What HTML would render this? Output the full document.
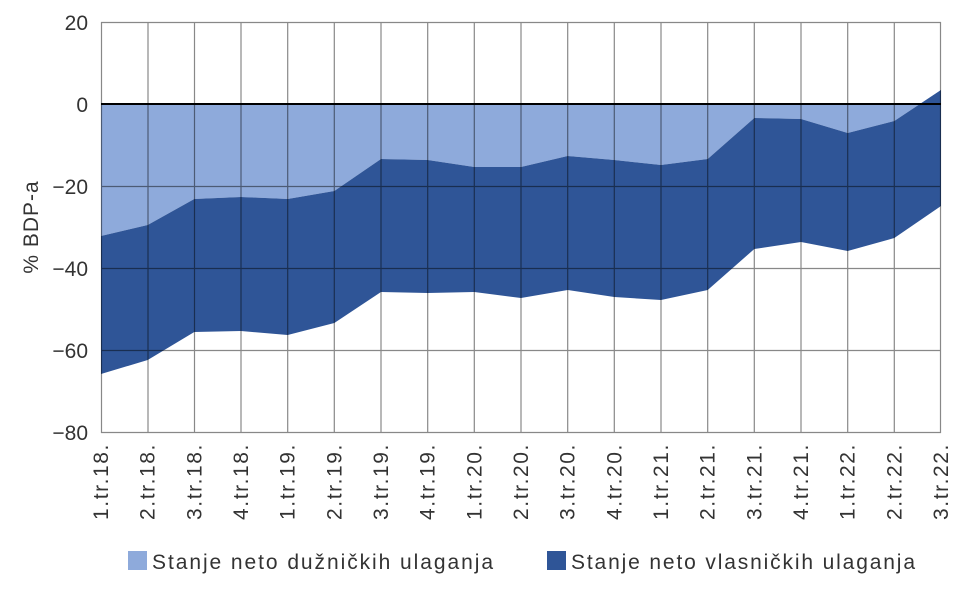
<!DOCTYPE html>
<html><head><meta charset="utf-8"><style>
body{margin:0;background:#fff;}
svg text{font-family:"Liberation Sans",sans-serif;fill:#333;}
</style></head><body>
<svg width="960" height="600" viewBox="0 0 960 600" xmlns="http://www.w3.org/2000/svg">
<rect width="960" height="600" fill="#fff"/>
<polygon fill="#8eaadb" points="101,104 941,104 941,90 894.3,121 847.7,133 801,119 754.3,118 707.7,159 661,165 614.3,160 567.7,156 521,167 474.3,167 427.7,160 381,159 334.3,191 287.7,199 241,197 194.3,199 147.7,225 101,236"/>
<polygon fill="#2f5597" points="101,236 147.7,225 194.3,199 241,197 287.7,199 334.3,191 381,159 427.7,160 474.3,167 521,167 567.7,156 614.3,160 661,165 707.7,159 754.3,118 801,119 847.7,133 894.3,121 941,90 941,206 894.3,238 847.7,251 801,242 754.3,249 707.7,290 661,300 614.3,297 567.7,290 521,298 474.3,292 427.7,293 381,292 334.3,323 287.7,335 241,331 194.3,332 147.7,360 101,374"/>
<g stroke="#888" stroke-width="1.2" style="mix-blend-mode:multiply">
<line x1="101" y1="22.5" x2="941" y2="22.5"/><line x1="101" y1="186.5" x2="941" y2="186.5"/><line x1="101" y1="268.5" x2="941" y2="268.5"/><line x1="101" y1="350.5" x2="941" y2="350.5"/><line x1="101" y1="432.5" x2="941" y2="432.5"/>
<line x1="101.5" y1="22" x2="101.5" y2="433"/><line x1="148" y1="22" x2="148" y2="433"/><line x1="194.5" y1="22" x2="194.5" y2="433"/><line x1="241" y1="22" x2="241" y2="433"/><line x1="287.7" y1="22" x2="287.7" y2="433"/><line x1="334.3" y1="22" x2="334.3" y2="433"/><line x1="381" y1="22" x2="381" y2="433"/><line x1="427.7" y1="22" x2="427.7" y2="433"/><line x1="474.3" y1="22" x2="474.3" y2="433"/><line x1="521" y1="22" x2="521" y2="433"/><line x1="567.7" y1="22" x2="567.7" y2="433"/><line x1="614.3" y1="22" x2="614.3" y2="433"/><line x1="661" y1="22" x2="661" y2="433"/><line x1="707.7" y1="22" x2="707.7" y2="433"/><line x1="754.3" y1="22" x2="754.3" y2="433"/><line x1="801" y1="22" x2="801" y2="433"/><line x1="847.7" y1="22" x2="847.7" y2="433"/><line x1="894.3" y1="22" x2="894.3" y2="433"/><line x1="940.5" y1="22" x2="940.5" y2="433"/>
</g>
<line x1="101" y1="104" x2="941" y2="104" stroke="#000" stroke-width="2"/>
<g font-size="21" text-anchor="end">
<text x="88" y="30">20</text><text x="88" y="112">0</text><text x="88" y="194">−20</text><text x="88" y="276">−40</text><text x="88" y="358">−60</text><text x="88" y="440">−80</text>
</g>
<text transform="translate(38,227) rotate(-90)" font-size="21" text-anchor="middle" letter-spacing="1">% BDP-a</text>
<g font-size="21" text-anchor="end" letter-spacing="1.6">
<text transform="translate(108,443) rotate(-90)">1.tr.18.</text>
<text transform="translate(154.7,443) rotate(-90)">2.tr.18.</text>
<text transform="translate(201.3,443) rotate(-90)">3.tr.18.</text>
<text transform="translate(248,443) rotate(-90)">4.tr.18.</text>
<text transform="translate(294.7,443) rotate(-90)">1.tr.19.</text>
<text transform="translate(341.3,443) rotate(-90)">2.tr.19.</text>
<text transform="translate(388,443) rotate(-90)">3.tr.19.</text>
<text transform="translate(434.7,443) rotate(-90)">4.tr.19.</text>
<text transform="translate(481.3,443) rotate(-90)">1.tr.20.</text>
<text transform="translate(528,443) rotate(-90)">2.tr.20.</text>
<text transform="translate(574.7,443) rotate(-90)">3.tr.20.</text>
<text transform="translate(621.3,443) rotate(-90)">4.tr.20.</text>
<text transform="translate(668,443) rotate(-90)">1.tr.21.</text>
<text transform="translate(714.7,443) rotate(-90)">2.tr.21.</text>
<text transform="translate(761.3,443) rotate(-90)">3.tr.21.</text>
<text transform="translate(808,443) rotate(-90)">4.tr.21.</text>
<text transform="translate(854.7,443) rotate(-90)">1.tr.22.</text>
<text transform="translate(901.3,443) rotate(-90)">2.tr.22.</text>
<text transform="translate(948,443) rotate(-90)">3.tr.22.</text>
</g>
<rect x="128" y="551" width="19" height="19" fill="#8eaadb"/>
<text x="152" y="569" font-size="21" textLength="341" lengthAdjust="spacing">Stanje neto dužničkih ulaganja</text>
<rect x="547" y="551" width="19" height="19" fill="#2f5597"/>
<text x="571" y="569" font-size="21" textLength="344" lengthAdjust="spacing">Stanje neto vlasničkih ulaganja</text>
</svg>
</body></html>
